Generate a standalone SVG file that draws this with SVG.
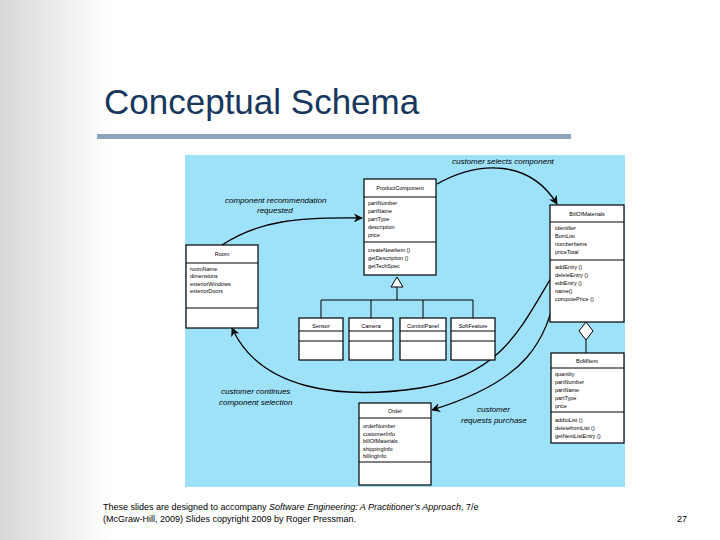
<svg xmlns="http://www.w3.org/2000/svg" width="720" height="540" viewBox="0 0 720 540">
<defs>
<linearGradient id="g" x1="0" x2="1" y1="0" y2="0">
<stop offset="0" stop-color="#d8d8d8"/><stop offset="1" stop-color="#ffffff"/>
</linearGradient>
<marker id="a" viewBox="0 0 10 10" refX="9" refY="5" markerWidth="9" markerHeight="9" orient="auto" markerUnits="userSpaceOnUse"><path d="M0,0 L10,5 L0,10 L3,5 z" fill="#000"/></marker>
</defs>
<style>
.b{fill:#fff;stroke:#000;stroke-width:1.2}
.l{stroke:#000;stroke-width:1;fill:none}
.c{stroke:#000;stroke-width:1.3;fill:none}
.t{font-family:"Liberation Sans",Arial,sans-serif;font-size:5.5px;fill:#000}
.n{font-family:"Liberation Sans",Arial,sans-serif;font-size:5.5px;fill:#000;text-anchor:middle}
.i{font-family:"Liberation Sans",Arial,sans-serif;font-size:8px;font-style:italic;fill:#000}
.f{font-family:"Liberation Sans",Arial,sans-serif;font-size:9px;fill:#000}
</style>
<rect width="720" height="540" fill="#fff"/>
<rect width="110" height="540" fill="url(#g)"/>
<text x="104" y="114" font-family="Liberation Sans,Arial,sans-serif" font-size="35" fill="#17375e">Conceptual Schema</text>
<rect x="97" y="134" width="474" height="5" fill="#8ea3bd"/>
<rect x="185" y="155" width="440" height="332" fill="#9ee2fa"/>

<g id="connectors">
<path class="l" d="M397,287 V300 M321,300 H473 M321,300 V318 M371,300 V318 M423,300 V318 M473,300 V318"/>
<path d="M397,277 L403,287 L391,287 z" fill="#fff" stroke="#000"/>
<path class="l" d="M586,340 V353"/>
<path d="M586,322 L593,331 L586,340 L579,331 z" fill="#fff" stroke="#000"/>
<path class="c" marker-end="url(#a)" d="M437,184 C480,160 530,160 557,204"/>
<path class="c" marker-end="url(#a)" d="M222,245 C260,220 300,217 362,218"/>
<path class="c" marker-end="url(#a)" d="M551,278 C520,330 500,375 420,388 C340,400 260,390 232,328"/>
<path class="c" marker-end="url(#a)" d="M557,290 C545,340 530,380 432,410"/>
</g>

<g id="ProductComponent">
<rect class="b" x="364" y="179" width="72" height="96"/>
<path class="l" d="M364,197 H436 M364,242 H436"/>
<text class="n" x="400" y="190">ProductComponent</text>
<text class="t" x="368" y="205">partNumber</text><text class="t" x="368" y="213">partName</text><text class="t" x="368" y="221">partType</text><text class="t" x="368" y="229">description</text><text class="t" x="368" y="237">price</text>
<text class="t" x="368" y="252">createNewItem ()</text><text class="t" x="368" y="260">getDescription ()</text><text class="t" x="368" y="268">getTechSpec</text>
</g>
<g id="Room">
<rect class="b" x="186" y="245" width="72" height="83"/>
<path class="l" d="M186,263 H258 M186,308 H258"/>
<text class="n" x="222" y="256">Room</text>
<text class="t" x="190" y="271">roomName</text><text class="t" x="190" y="278">dimensions</text><text class="t" x="190" y="286">exteriorWindows</text><text class="t" x="190" y="293">exteriorDoors</text>
</g>
<g id="BillOfMaterials">
<rect class="b" x="550" y="205" width="74" height="117"/>
<path class="l" d="M550,222 H624 M550,260 H624"/>
<text class="n" x="587" y="216">BillOfMaterials</text>
<text class="t" x="555" y="230">identifier</text><text class="t" x="555" y="238">BomList</text><text class="t" x="555" y="246">numberItems</text><text class="t" x="555" y="254">priceTotal</text>
<text class="t" x="555" y="269">addEntry ()</text><text class="t" x="555" y="277">deleteEntry ()</text><text class="t" x="555" y="285">editEntry ()</text><text class="t" x="555" y="293">name()</text><text class="t" x="555" y="301">computePrice ()</text>
</g>
<g id="BoMItem">
<rect class="b" x="551" y="353" width="73" height="90"/>
<path class="l" d="M551,368 H624 M551,412 H624"/>
<text class="n" x="587" y="363">BoMItem</text>
<text class="t" x="555" y="376">quantity</text><text class="t" x="555" y="384">partNumber</text><text class="t" x="555" y="392">partName</text><text class="t" x="555" y="400">partType</text><text class="t" x="555" y="408">price</text>
<text class="t" x="555" y="422">addtoList ()</text><text class="t" x="555" y="430">deletefromList ()</text><text class="t" x="555" y="438">getNextListEntry ()</text>
</g>
<g id="Order">
<rect class="b" x="359" y="403" width="72" height="82"/>
<path class="l" d="M359,418 H431 M359,462 H431"/>
<text class="n" x="395" y="413">Order</text>
<text class="t" x="363" y="428">orderNumber</text><text class="t" x="363" y="436">customerInfo</text><text class="t" x="363" y="443">billOfMaterials</text><text class="t" x="363" y="451">shippingInfo</text><text class="t" x="363" y="458">billingInfo</text>
</g>
<g id="Sensor"><rect class="b" x="299" y="318" width="44" height="42"/><path class="l" d="M299,331 H343 M299,341 H343"/><text class="n" x="321" y="328">Sensor</text></g>
<g id="Camera"><rect class="b" x="349" y="318" width="44" height="42"/><path class="l" d="M349,331 H393 M349,341 H393"/><text class="n" x="371" y="328">Camera</text></g>
<g id="ControlPanel"><rect class="b" x="400" y="318" width="46" height="42"/><path class="l" d="M400,331 H446 M400,341 H446"/><text class="n" x="423" y="328">ControlPanel</text></g>
<g id="SoftFeature"><rect class="b" x="451" y="318" width="44" height="42"/><path class="l" d="M451,331 H495 M451,341 H495"/><text class="n" x="473" y="328">SoftFeature</text></g>

<g id="labels">
<text class="i" x="452" y="164">customer selects component</text>
<text class="i" x="225" y="203">component recommendation</text>
<text class="i" x="257" y="213">requested</text>
<text class="i" x="221" y="394">customer continues</text>
<text class="i" x="219" y="405">component selection</text>
<text class="i" x="477" y="412">customer</text>
<text class="i" x="461" y="423">requests purchase</text>
</g>
<text class="f" x="103" y="510">These slides are designed to accompany <tspan font-style="italic">Software Engineering: A Practitioner’s Approach</tspan>, 7/e</text>
<text class="f" x="103" y="522">(McGraw-Hill, 2009) Slides copyright 2009 by Roger Pressman.</text>
<text class="f" x="677" y="522">27</text>
</svg>
